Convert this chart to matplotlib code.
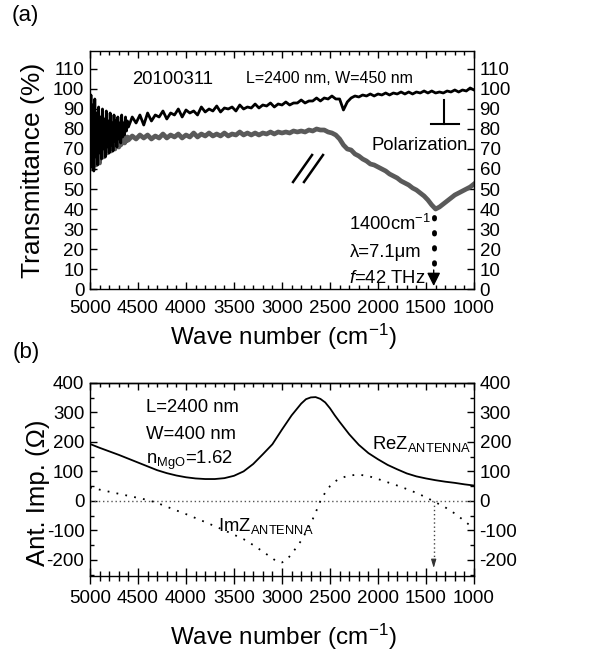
import matplotlib
matplotlib.use('Agg')
import matplotlib.pyplot as plt
from matplotlib.ticker import MultipleLocator

plt.rcParams['font.family'] = ['Liberation Sans', 'DejaVu Sans']
plt.rcParams['mathtext.fontset'] = 'custom'
plt.rcParams['mathtext.rm'] = 'Liberation Sans'
plt.rcParams['mathtext.it'] = 'Liberation Sans:italic'
plt.rcParams['mathtext.default'] = 'regular'
plt.rcParams['axes.unicode_minus'] = False

# ---------------- (a) transmittance spectra ----------------
# noisy high-wavenumber region (step 10 cm-1)
wn_noisy = [5000, 4990, 4980, 4970, 4960, 4950, 4940, 4930, 4920, 4910,
            4900, 4890, 4880, 4870, 4860, 4850, 4840, 4830, 4820, 4810,
            4800, 4790, 4780, 4770, 4760, 4750, 4740, 4730, 4720, 4710,
            4700, 4690, 4680, 4670, 4660, 4650, 4640, 4630, 4620, 4610]
# rest of the spectrum (step 40 cm-1)
wn_main = [4600, 4560, 4520, 4480, 4440, 4400, 4360, 4320, 4280, 4240,
           4200, 4160, 4120, 4080, 4040, 4000, 3960, 3920, 3880, 3840,
           3800, 3760, 3720, 3680, 3640, 3600, 3560, 3520, 3480, 3440,
           3400, 3360, 3320, 3280, 3240, 3200, 3160, 3120, 3080, 3040,
           3000, 2960, 2920, 2880, 2840, 2800, 2760, 2720, 2680, 2640,
           2600, 2560, 2520, 2480, 2440, 2400, 2360, 2320, 2280, 2240,
           2200, 2160, 2120, 2080, 2040, 2000, 1960, 1920, 1880, 1840,
           1800, 1760, 1720, 1680, 1640, 1600, 1560, 1520, 1480, 1440,
           1400, 1360, 1320, 1280, 1240, 1200, 1160, 1120, 1080, 1040,
           1000]

t_upper_noisy = [72, 97, 61, 92, 59, 95, 66, 88, 62, 91,
                 68, 86, 65, 90, 70, 85, 66, 89, 71, 84,
                 68, 88, 72, 83, 69, 87, 74, 84, 71, 86,
                 75, 83, 73, 87, 76, 83, 77, 86, 79, 84]
t_upper_main = [81, 86, 83, 87, 82, 88, 84, 87, 86, 89,
                85, 88, 87, 90, 86, 89.5, 88, 89, 87, 91,
                88.5, 90, 89, 91.5, 88.5, 90.5, 90, 91, 89, 92,
                90, 91, 90.5, 92.5, 90.5, 92, 91.5, 93, 91, 92.5,
                92, 93.5, 92, 93, 93, 94.5, 93, 94, 94, 95.5,
                94, 95.5, 95, 96.5, 95, 95, 89.5, 93.5, 95.5, 96.5,
                96, 97, 96.5, 97.5, 96.5, 97.5, 97, 98, 97, 98,
                97.5, 98.5, 97.5, 98.5, 97.5, 98.5, 98, 99, 98, 99,
                98, 98.5, 98, 99, 98.5, 99.5, 98.5, 99.5, 99, 100.5,
                99.5]

t_lower_noisy = [66, 84, 60, 80, 64, 86, 62, 78, 66, 82,
                 63, 78, 68, 80, 66, 77, 69, 79, 68, 76,
                 70, 78, 69, 75, 71, 77, 70, 76, 72, 75,
                 71, 76, 72, 75, 73, 76, 73, 75, 74, 76]
t_lower_main = [74.5, 76.5, 75, 77, 75.5, 77, 75, 76.5, 75.5, 77.5,
                75.5, 77, 76, 77.5, 75.5, 77, 76, 78, 76, 77.5,
                76.5, 78, 76.5, 77.5, 76.5, 78, 76.5, 77.5, 77, 78.5,
                77, 78, 77, 78, 77, 78, 77.5, 78.5, 77.5, 78.5,
                78, 78.5, 78, 79, 78.5, 79, 78.5, 79.5, 79, 80,
                79.5, 79.5, 78.5, 78, 77, 75, 72, 70, 69.5, 67.5,
                66.5, 65, 64, 62.5, 62, 61, 60, 59, 57.5, 56.5,
                55.5, 54, 53, 52, 50.5, 49.5, 48, 46.5, 44.5, 42,
                40, 41, 42.5, 44, 45.5, 47, 48, 49, 50, 51,
                52.5]

# ---------------- (b) antenna impedance ----------------
wn_rez = [5000, 4900, 4800, 4700, 4600, 4500, 4400, 4300, 4200, 4100,
          4000, 3900, 3800, 3700, 3600, 3500, 3400, 3300, 3200, 3100,
          3000, 2900, 2800, 2750, 2700, 2650, 2600, 2550, 2500, 2450,
          2400, 2300, 2200, 2100, 2000, 1900, 1800, 1700, 1600, 1500,
          1400, 1300, 1200, 1100, 1000]
re_z = [193, 180, 168, 156, 143, 130, 117, 104, 94, 86,
        80, 76, 74, 74, 77, 85, 100, 125, 158, 192,
        242, 290, 330, 345, 351, 352, 346, 334, 314, 290,
        268, 226, 190, 162, 141, 122, 107, 93, 83, 76,
        70, 65, 61, 56, 52]

wn_imz = [5000, 4800, 4600, 4400, 4300, 4200, 4000, 3800, 3600, 3400,
          3300, 3200, 3100, 3050, 3000, 2950, 2900, 2850, 2800, 2750,
          2700, 2650, 2600, 2550, 2500, 2450, 2400, 2300, 2200, 2100,
          2000, 1900, 1800, 1700, 1600, 1500, 1430, 1300, 1200, 1100,
          1000]
im_z = [45, 31, 17, 3, -7, -20, -45, -72, -100, -130,
        -150, -172, -195, -207, -209, -200, -180, -158, -135, -106,
        -77, -40, 0, 28, 50, 65, 76, 86, 89, 84,
        74, 63, 52, 40, 27, 12, 0, -22, -43, -68,
        -95]

resonance_wn = 1420

x_ticks = [5000, 4500, 4000, 3500, 3000, 2500, 2000, 1500, 1000]
t_ticks = [0, 10, 20, 30, 40, 50, 60, 70, 80, 90, 100, 110]
z_ticks = [-200, -100, 0, 100, 200, 300, 400]

TICK_FS = 13.5
TEXT_FS = 13.3
LABEL_FS = 17.5

fig = plt.figure(figsize=(6.06, 6.57), dpi=100)
ax1 = fig.add_axes([0.1485, 0.5601, 0.6337, 0.3623])
ax2 = fig.add_axes([0.1485, 0.1233, 0.6337, 0.2938])

# ---------- panel (a) ----------
ax1.plot(wn_noisy + wn_main, t_lower_noisy + t_lower_main, color='#5a5a5a', lw=3.4)
ax1.plot(wn_noisy + wn_main, t_upper_noisy + t_upper_main, color='black', lw=2.0)
ax1.set_xlim(5000, 1000)
ax1.set_ylim(0, 119)
ax1.set_xticks(x_ticks)
ax1.xaxis.set_minor_locator(MultipleLocator(100))
ax1.set_yticks(t_ticks)
ax1.tick_params(axis='both', which='both', direction='in', top=True, right=True,
                labelright=True, labelsize=TICK_FS, width=1.0)
ax1.tick_params(axis='x', which='major', length=5, pad=8)
ax1.tick_params(axis='x', which='minor', length=3)
ax1.tick_params(axis='y', which='major', length=5, pad=4)
for s in ax1.spines.values():
    s.set_linewidth(1.0)
ax1.set_ylabel('Transmittance (%)', fontsize=19)
ax1.yaxis.set_label_coords(-0.118, 0.5)

ax1.text(4135, 102.5, '20100311', fontsize=TEXT_FS, ha='center', va='baseline')
ax1.text(2505, 103, 'L=2400 nm, W=450 nm', fontsize=11.5, ha='center', va='baseline')
ax1.text(1562, 69.5, 'Polarization', fontsize=TEXT_FS, ha='center', va='baseline')
ax1.plot([1313, 1313], [82.5, 94.5], color='black', lw=1.5)
ax1.plot([1448, 1156], [82.5, 82.5], color='black', lw=1.5)
ax1.text(2302, 29.5, '1400cm$^{-1}$', fontsize=TEXT_FS, ha='left', va='baseline')
ax1.text(2295, 16, 'λ=7.1μm', fontsize=TEXT_FS, ha='left', va='baseline')
ax1.text(2302, 3.2, '$\\mathit{f}$=42 THz', fontsize=TEXT_FS, ha='left', va='baseline')
ax1.plot([2885, 2687], [53.5, 67], color='black', lw=1.8)
ax1.plot([2771, 2573], [53.5, 67], color='black', lw=1.8)
ax1.plot([resonance_wn, resonance_wn], [36, 11], color='black', lw=3.5,
         linestyle=(0, (0.3, 2.8)), dash_capstyle='round')
ax1.annotate('', xy=(resonance_wn, 1.5), xytext=(resonance_wn, 9.5),
             arrowprops=dict(arrowstyle='-|>,head_length=0.8,head_width=0.4',
                             color='black', lw=1.0, shrinkA=0, shrinkB=0))

# ---------- panel (b) ----------
ax2.axhline(0, color='#555555', lw=1.0, linestyle=(0, (1, 2)))
ax2.plot(wn_rez, re_z, color='black', lw=1.3)
ax2.plot(wn_imz, im_z, color='black', lw=1.3, linestyle=(0, (1, 4)))
ax2.set_xlim(5000, 1000)
ax2.set_ylim(-255, 400)
ax2.set_xticks(x_ticks)
ax2.xaxis.set_minor_locator(MultipleLocator(100))
ax2.set_yticks(z_ticks)
ax2.yaxis.set_minor_locator(MultipleLocator(50))
ax2.tick_params(axis='x', which='both', direction='inout', top=False,
                labelsize=TICK_FS, width=1.0)
ax2.tick_params(axis='x', which='major', length=12, pad=4)
ax2.tick_params(axis='x', which='minor', length=7)
ax2.tick_params(axis='y', which='both', direction='in', right=True, labelright=True,
                labelsize=TICK_FS, width=1.0)
ax2.tick_params(axis='y', which='major', length=5, pad=4)
ax2.tick_params(axis='y', which='minor', length=3)
sec = ax2.secondary_xaxis('top')
sec.set_xticks(x_ticks)
sec.xaxis.set_minor_locator(MultipleLocator(100))
sec.tick_params(axis='x', which='both', direction='in', labeltop=False, width=1.0)
sec.tick_params(axis='x', which='major', length=5)
sec.tick_params(axis='x', which='minor', length=3)
for s in list(ax2.spines.values()) + list(sec.spines.values()):
    s.set_linewidth(1.0)
ax2.set_ylabel('Ant. Imp. (Ω)', fontsize=18.5)
ax2.yaxis.set_label_coords(-0.105, 0.43)

ax2.text(4420, 302, 'L=2400 nm', fontsize=TEXT_FS, ha='left', va='baseline')
ax2.text(4420, 211, 'W=400 nm', fontsize=TEXT_FS, ha='left', va='baseline')
ax2.text(4420, 124, 'n$_{MgO}$=1.62', fontsize=TEXT_FS, ha='left', va='baseline')
ax2.text(2063, 177, 'ReZ$_{ANTENNA}$', fontsize=TEXT_FS, ha='left', va='baseline')
ax2.text(3667, -104, 'ImZ$_{ANTENNA}$', fontsize=TEXT_FS, ha='left', va='baseline')
ax2.plot([resonance_wn, resonance_wn], [0, -205], color='#444444', lw=1.0,
         linestyle=(0, (1, 2)))
ax2.annotate('', xy=(resonance_wn, -228), xytext=(resonance_wn, -205),
             arrowprops=dict(arrowstyle='-|>,head_length=0.5,head_width=0.15',
                             color='#333333', lw=0.8, shrinkA=0, shrinkB=0))

fig.text(0.467, 0.487, 'Wave number (cm$^{-1}$)', fontsize=LABEL_FS, ha='center', va='center')
fig.text(0.467, 0.030, 'Wave number (cm$^{-1}$)', fontsize=LABEL_FS, ha='center', va='center')
fig.text(0.041, 0.976, '(a)', fontsize=16, ha='center', va='center')
fig.text(0.043, 0.464, '(b)', fontsize=16, ha='center', va='center')

fig.savefig('out.png', dpi=100)
